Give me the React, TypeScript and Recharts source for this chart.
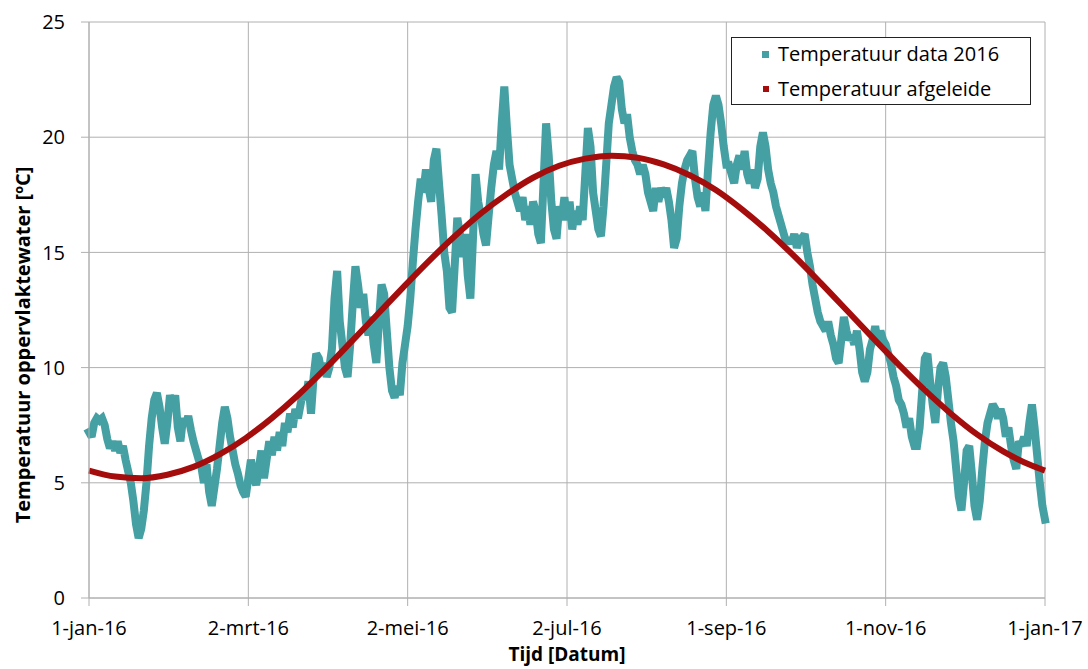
import React from 'react';
import { LineChart, Line, XAxis, YAxis, CartesianGrid } from 'recharts';

// Measured surface water temperature, one value per day from 1-jan-16 (index = day number)
const measuredTemps: number[] = [
  7.2, 7.0, 7.6, 7.8, 7.7, 7.8, 7.5, 6.9, 6.5, 6.8, 6.4, 6.8, 6.3, 6.6, 6.0, 5.5, 5.0, 4.2, 3.2, 2.6,
  3.0, 3.8, 5.0, 6.6, 7.8, 8.6, 8.9, 8.3, 7.4, 6.7, 7.6, 8.8, 8.3, 8.8, 7.4, 6.8, 7.8, 7.5, 7.9, 7.3,
  6.8, 6.4, 6.0, 5.7, 5.0, 5.8, 4.6, 4.0, 4.8, 5.6, 6.6, 7.6, 8.3, 7.8, 7.0, 6.4, 5.8, 5.4, 4.9, 4.6,
  4.4, 5.2, 6.0, 5.3, 4.9, 5.6, 6.4, 5.2, 6.0, 6.8, 6.2, 7.0, 6.4, 7.2, 6.6, 7.6, 7.2, 8.0, 7.4, 8.2,
  7.8, 8.4, 9.0, 8.6, 9.4, 8.0, 9.6, 10.6, 10.4, 9.8, 10.2, 9.6, 10.0, 10.8, 13.0, 14.2, 12.0, 11.0, 10.0, 9.6,
  11.0, 12.8, 14.4, 13.6, 12.6, 13.2, 12.0, 11.4, 12.2, 11.0, 10.2, 12.0, 13.6, 13.2, 11.6, 10.0, 9.0, 8.7, 9.2, 8.8,
  10.2, 11.0, 11.8, 13.0, 14.6, 16.0, 17.2, 18.2, 17.6, 18.6, 17.8, 17.2, 19.0, 19.5, 18.0, 16.6, 15.0, 14.2, 12.6, 12.4,
  14.4, 16.5, 15.8, 14.8, 15.8, 14.0, 13.0, 15.6, 18.4, 17.2, 16.6, 15.8, 15.3, 16.6, 17.8, 18.8, 19.4, 18.6, 20.6, 22.2,
  20.4, 18.8, 18.2, 17.6, 17.2, 16.8, 17.4, 16.4, 17.0, 16.2, 17.2, 16.8, 15.8, 15.4, 18.0, 20.6, 19.2, 17.2, 16.0, 15.6,
  17.0, 16.4, 17.4, 16.4, 17.2, 16.0, 16.8, 16.2, 17.0, 16.4, 18.4, 20.4, 19.6, 17.6, 16.8, 16.0, 15.7, 17.0, 18.8, 20.6,
  21.4, 22.2, 22.6, 22.4, 21.2, 20.6, 21.0, 20.0, 19.4, 19.0, 18.8, 18.4, 18.8, 18.4, 17.6, 17.2, 16.8, 17.8, 17.2, 17.8,
  17.4, 17.8, 17.2, 16.4, 15.2, 15.6, 17.0, 18.0, 18.6, 19.0, 19.2, 19.4, 18.2, 17.4, 17.0, 17.6, 16.8, 18.6, 20.2, 21.4,
  21.8, 21.4, 20.6, 19.6, 18.8, 18.8, 18.4, 18.0, 18.8, 19.2, 18.6, 19.4, 18.4, 18.0, 18.6, 17.8, 18.2, 19.6, 20.2, 19.6,
  18.6, 18.0, 17.6, 17.0, 16.6, 16.2, 15.8, 15.4, 15.6, 15.4, 15.8, 15.2, 15.6, 15.6, 15.8, 15.0, 14.4, 13.6, 13.0, 12.4,
  12.0, 11.8, 11.6, 12.0, 11.4, 11.0, 10.4, 10.2, 11.2, 12.2, 11.6, 11.2, 11.4, 11.0, 11.6, 10.8, 9.8, 9.4, 9.8, 10.8,
  11.2, 11.8, 11.0, 11.6, 11.2, 11.0, 10.6, 10.2, 9.6, 9.2, 8.6, 8.4, 8.0, 7.4, 7.8, 7.0, 6.6, 6.6, 7.4, 9.0,
  10.4, 10.6, 9.4, 8.4, 7.6, 9.0, 10.0, 10.2, 9.6, 8.6, 7.6, 6.8, 5.6, 4.4, 3.8, 5.0, 6.4, 6.6, 5.4, 4.0,
  3.4, 4.2, 5.6, 6.8, 7.6, 8.0, 8.4, 8.2, 7.8, 8.2, 7.8, 7.0, 7.4, 6.6, 6.0, 5.6, 6.8, 6.6, 7.0, 6.6,
  7.6, 8.4, 7.4, 6.2, 5.0, 4.0, 3.4,
];

// Derived (fitted) temperature
const derivedDays: number[] = [0, 10, 20, 30, 40, 50, 60, 70, 80, 90, 100, 110, 120, 130, 140, 150, 160, 170, 180, 190,
  200, 210, 220, 230, 240, 250, 260, 270, 280, 290, 300, 310, 320, 330, 340, 350, 360, 366];
const derivedTemps: number[] = [5.53, 5.27, 5.2, 5.35, 5.69, 6.23, 6.94, 7.81, 8.8, 9.9, 11.07, 12.26, 13.45, 14.61, 15.7,
  16.69, 17.53, 18.24, 18.76, 19.07, 19.2, 19.11, 18.82, 18.35, 17.71, 16.87, 15.91, 14.84, 13.69, 12.5, 11.3, 10.13,
  9.02, 8.0, 7.1, 6.36, 5.79, 5.53];

const tickDays: number[] = [0, 61, 122, 183, 244, 305, 366];
const tickLabels: string[] = ['1-jan-16', '2-mrt-16', '2-mei-16', '2-jul-16', '1-sep-16', '1-nov-16', '1-jan-17'];
const yTicks: number[] = [0, 5, 10, 15, 20, 25];

const measuredData = measuredTemps.map((t, i) => ({ day: i, temp: t }));
const derivedData = derivedDays.map((d, i) => ({ day: d, temp: derivedTemps[i] }));

const TEAL = '#45a0a3';
const RED = '#a50d0d';
const GRID = '#b0b0b0';
const FONT = '"Open Sans", sans-serif';

export default function App() {
  return (
    <div style={{ position: 'absolute', left: 0, top: 0, width: 1088, height: 669, background: '#fff', fontFamily: FONT }}>
      <LineChart width={1088} height={669} margin={{ top: 22, right: 43, left: 29, bottom: 0 }}>
        <CartesianGrid stroke={GRID} strokeWidth={1} />
        <XAxis
          dataKey="day"
          type="number"
          domain={[0, 366]}
          ticks={tickDays}
          tickFormatter={(v: number) => tickLabels[tickDays.indexOf(v)] ?? ''}
          height={71}
          tickSize={8}
          tickMargin={15}
          stroke={GRID}
          tick={{ fill: '#000', fontSize: 20, fontFamily: FONT }}
          allowDuplicatedCategory={false}
          label={{
            content: () => (
              <text x={567} y={661} textAnchor="middle" fontFamily={FONT} fontSize={19} fontWeight="bold" fill="#000">
                Tijd [Datum]
              </text>
            ),
          }}
        />
        <YAxis
          type="number"
          domain={[0, 25]}
          ticks={yTicks}
          width={60}
          tickSize={8}
          tickMargin={16}
          stroke={GRID}
          tick={{ fill: '#000', fontSize: 20, fontFamily: FONT }}
          label={{
            content: () => (
              <text
                x={30}
                y={345}
                transform="rotate(-90 30 345)"
                textAnchor="middle"
                fontFamily={FONT}
                fontSize={20}
                fontWeight="bold"
                fill="#000"
              >
                Temperatuur oppervlaktewater [ºC]
              </text>
            ),
          }}
        />
        <Line
          data={measuredData}
          dataKey="temp"
          type="linear"
          stroke={TEAL}
          strokeWidth={8}
          strokeLinejoin="miter"
          strokeLinecap="square"
          strokeMiterlimit={2}
          dot={false}
          isAnimationActive={false}
          name="Temperatuur data 2016"
        />
        <Line
          data={derivedData}
          dataKey="temp"
          type="monotone"
          stroke={RED}
          strokeWidth={6}
          dot={false}
          isAnimationActive={false}
          name="Temperatuur afgeleide"
        />
      </LineChart>
      <div
        style={{
          position: 'absolute',
          left: 731,
          top: 37,
          width: 300,
          height: 68,
          border: '1.5px solid #222',
          background: '#fff',
          boxSizing: 'border-box',
          fontFamily: FONT,
          fontSize: 20,
          color: '#000',
        }}
      >
        <div style={{ position: 'absolute', left: 30, top: 13, width: 7, height: 7, background: TEAL }} />
        <div style={{ position: 'absolute', left: 46, top: 2, lineHeight: '28px', whiteSpace: 'nowrap' }}>Temperatuur data 2016</div>
        <div style={{ position: 'absolute', left: 31, top: 48, width: 6, height: 6, background: RED }} />
        <div style={{ position: 'absolute', left: 46, top: 37, lineHeight: '28px', whiteSpace: 'nowrap' }}>Temperatuur afgeleide</div>
      </div>
    </div>
  );
}
